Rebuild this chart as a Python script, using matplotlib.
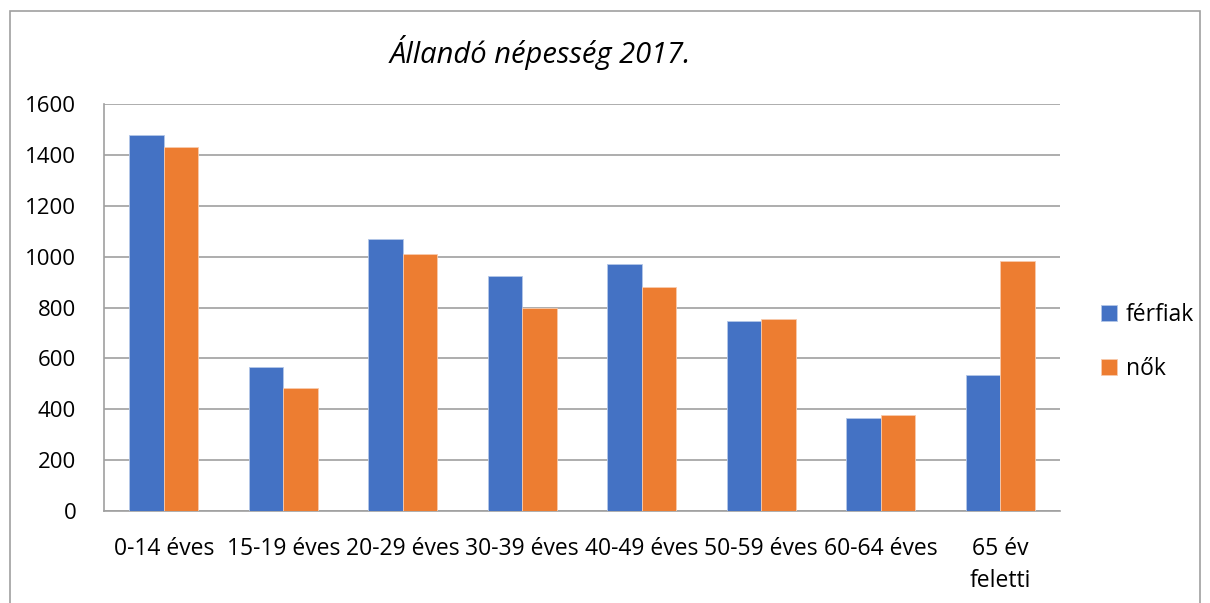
import matplotlib
matplotlib.use("Agg")
import matplotlib.pyplot as plt
import numpy as np
from matplotlib.patches import Rectangle

categories = ["0-14 éves", "15-19 éves", "20-29 éves", "30-39 éves", "40-49 éves",
              "50-59 éves", "60-64 éves", "65 év\nfeletti"]
ferfiak = [1480, 566, 1070, 924, 970, 748, 364, 533]
nok = [1430, 483, 1010, 798, 880, 755, 377, 981]
yticks = [0, 200, 400, 600, 800, 1000, 1200, 1400, 1600]

plt.rcParams['font.family'] = ['Open Sans', 'DejaVu Sans']

fig = plt.figure(figsize=(12.1, 6.03), dpi=100)
ax = fig.add_axes([104/1210, 1-511/603, (1060-104)/1210, (511-104)/603])

x = np.arange(len(categories))
w = 0.29
ax.bar(x - w/2, ferfiak, w, color="#4472C4", edgecolor="#b4c7e7", linewidth=0.6, label="férfiak", zorder=3)
ax.bar(x + w/2, nok, w, color="#ED7D31", edgecolor="#f8cbad", linewidth=0.6, label="nők", zorder=3)

ax.set_xlim(-0.5, len(categories) - 0.5)
ax.set_ylim(0, 1600)
ax.set_yticks(yticks)
ax.set_yticklabels([str(v) for v in yticks], fontsize=16)
ax.set_xticks(x)
ax.set_xticklabels(categories, fontsize=16.5, linespacing=1.45, va='top')
ax.tick_params(axis='both', length=0)
ax.tick_params(axis='y', pad=20)
ax.tick_params(axis='x', pad=19)
ax.grid(axis='y', color="#a0a0a0", linewidth=1.2, zorder=0)
for s in ["top", "right"]:
    ax.spines[s].set_visible(False)
for s in ["left", "bottom"]:
    ax.spines[s].set_color("#a0a0a0")
    ax.spines[s].set_linewidth(1.2)

fig.text(540/1210, 1-52/603, "Állandó népesség 2017.", fontsize=21, style='italic',
         ha='center', va='center')

leg = fig.legend(loc='center left', bbox_to_anchor=(1080/1210, 1-342/603), frameon=False,
                 fontsize=16.5, handlelength=0.7, handleheight=0.7, labelspacing=1.3,
                 handletextpad=0.4)

border = Rectangle((10/1210, -0.1), 1190/1210, 1.1 - 11/603, transform=fig.transFigure,
                   fill=False, edgecolor="#a0a0a0", linewidth=1.2)
fig.patches.append(border)

fig.savefig("out.png", dpi=100)
